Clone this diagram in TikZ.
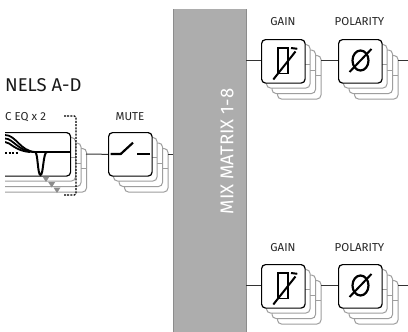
\documentclass[tikz,border=0pt]{standalone}
\usepackage{fontspec}
\setmainfont{Fira Sans}
\tikzset{
  card/.style={draw=#1,fill=white,rounded corners=4pt,line width=1pt},
  frontcard/.style={draw=black,fill=white,rounded corners=4pt,line width=1.2pt},
  wire/.style={draw=black!80,line width=1pt},
  stub/.style={draw=black!38,line width=1.4pt},
  sym/.style={draw=black,line width=2.2pt},
  lbl/.style={font=\fontsize{11.5}{11.5}\selectfont,text=black!85,inner sep=0pt},
}
\newcommand{\stackbox}[4]{% x left, y top, width, name
  \foreach \d in {3,2,1} {
    \draw[card=black!38] ({#1+5.5*\d},{#2+5.5*\d}) rectangle ++(#3,43.5);
  }
  \draw[stub] ({#1+#3},{#2+25.7}) -- ++(5.5,0);
  \draw[stub] ({#1+#3+5.5},{#2+31.2}) -- ++(5.5,0);
  \draw[stub] ({#1+#3+11},{#2+36.7}) -- ++(5.5,0);
  \node[frontcard,minimum width=#3 pt,minimum height=43.5pt,inner sep=0pt,anchor=north west] (#4) at (#1,#2) {};
}
\newcommand{\gainsym}[2]{% centre
  \draw[draw=black,line width=1.8pt] ({#1-5},{#2-12.5}) rectangle ({#1+5},{#2+13});
  \draw[sym,line width=2pt] ({#1-9.7},{#2+19}) -- ({#1+12.5},{#2-9});
  \draw[sym,line width=2pt] ({#1+8},{#2-12.5}) -- ({#1+14.3},{#2-11.7});
}
\newcommand{\polsym}[2]{%
  \draw[sym,line width=2.2pt] (#1,#2) ellipse (8 and 10);
  \draw[sym,line width=2pt] ({#1-11},{#2+11.5}) -- ({#1+11},{#2-11.5});
}
\definecolor{barfill}{HTML}{ADADAD}
\definecolor{baredge}{HTML}{8C8C8C}
\begin{document}
\begin{tikzpicture}[x=1pt,y=-1pt]
\useasboundingbox (0,0) rectangle (408,332);
\fill[white] (0,0) rectangle (408,332);
% mix matrix bar
\node[fill=barfill,minimum width=73pt,minimum height=323pt,inner sep=0pt,anchor=north west] (bar) at (173,9) {};
\draw[baredge,line width=1pt] (bar.north west) -- (bar.south west);
\draw[baredge,line width=1pt] (bar.north east) -- (bar.south east);
\node[rotate=90,text=white,font=\fontsize{18.5}{18.5}\selectfont,inner sep=0pt] (mix) at (227,151.5) {MIX MATRIX 1-8};
% title
\node[anchor=base west,inner sep=0pt,font=\fontsize{18.5}{18.5}\selectfont,text=black!90] (title) at (5,92) {NELS A-D};
\node[anchor=base west,lbl] (eqlabel) at (5,121) {C EQ x 2};
\node[lbl,anchor=base] (mutelabel) at (130,121) {MUTE};
% EQ stack, clipped at left
\begin{scope}
\clip (5,100) rectangle (100,210);
\stackbox{-20}{132}{90}{eq}
\fill[black!45] (42.5,176.5) -- (49.5,176.5) -- (46,182) -- cycle;
\fill[black!45] (48.2,182) -- (55.2,182) -- (51.7,187.5) -- cycle;
\fill[black!45] (53.5,187.5) -- (60.5,187.5) -- (57,193) -- cycle;
\draw[sym] (33,152) -- (70,152);
\draw[black,line width=1.8pt] (5,135) .. controls (16,135) and (20,151) .. (35,152);
\draw[black,line width=1.8pt] (5,138.5) .. controls (13,138.5) and (18,151) .. (33,152);
\draw[black,line width=1.8pt] (5,142) .. controls (10,142) and (15,151) .. (30,152);
\draw[black,line width=2pt,dash pattern=on 2pt off 1.5pt] (5,152.5) -- (18,152.5);
\draw[black,line width=2pt] (35,152) .. controls (38,152) and (37.5,175) .. (40.5,175) .. controls (43.5,175) and (43,152) .. (47,152);
\end{scope}
\draw[black,line width=1.1pt,dash pattern=on 2pt off 1.2pt,rounded corners=1.5pt] (64,116) -- (76,116) -- (76,195) -- (64,195);
% mute
\stackbox{108}{132}{43.5}{mute}
\draw[sym] (110.5,154) -- (120.7,154) -- (133,142.7);
\draw[sym] (137.3,154) -- (150,154);
\coordinate (eqout) at (86,154);
\coordinate (muteout) at (168,154);
\draw[wire] (eqout) -- (mute.west);
\draw[wire] (muteout) -- (bar.west |- muteout);
% upper outputs
\node[lbl,anchor=base] (g1l) at (283,26) {GAIN};
\node[lbl,anchor=base] (p1l) at (359.5,26) {POLARITY};
\stackbox{261}{39}{43.5}{g1}
\stackbox{338}{39}{43.5}{p1}
\gainsym{283}{60.5}
\polsym{360.5}{60.5}
\coordinate (o1) at (408,60);
\coordinate (g1s) at (321,60);
\coordinate (p1s) at (398,60);
\draw[wire] (bar.east |- g1s) -- (g1.west |- g1s);
\draw[wire] (g1s) -- (p1.west |- g1s);
\draw[wire] (p1s) -- (o1);
% lower outputs
\node[lbl,anchor=base] (g2l) at (283,251) {GAIN};
\node[lbl,anchor=base] (p2l) at (359.5,251) {POLARITY};
\stackbox{261}{264}{43.5}{g2}
\stackbox{338}{264}{43.5}{p2}
\gainsym{283}{285.5}
\polsym{360.5}{285.5}
\coordinate (o2) at (408,285);
\coordinate (g2s) at (321,285);
\coordinate (p2s) at (398,285);
\draw[wire] (bar.east |- g2s) -- (g2.west |- g2s);
\draw[wire] (g2s) -- (p2.west |- g2s);
\draw[wire] (p2s) -- (o2);
\end{tikzpicture}
\end{document}
